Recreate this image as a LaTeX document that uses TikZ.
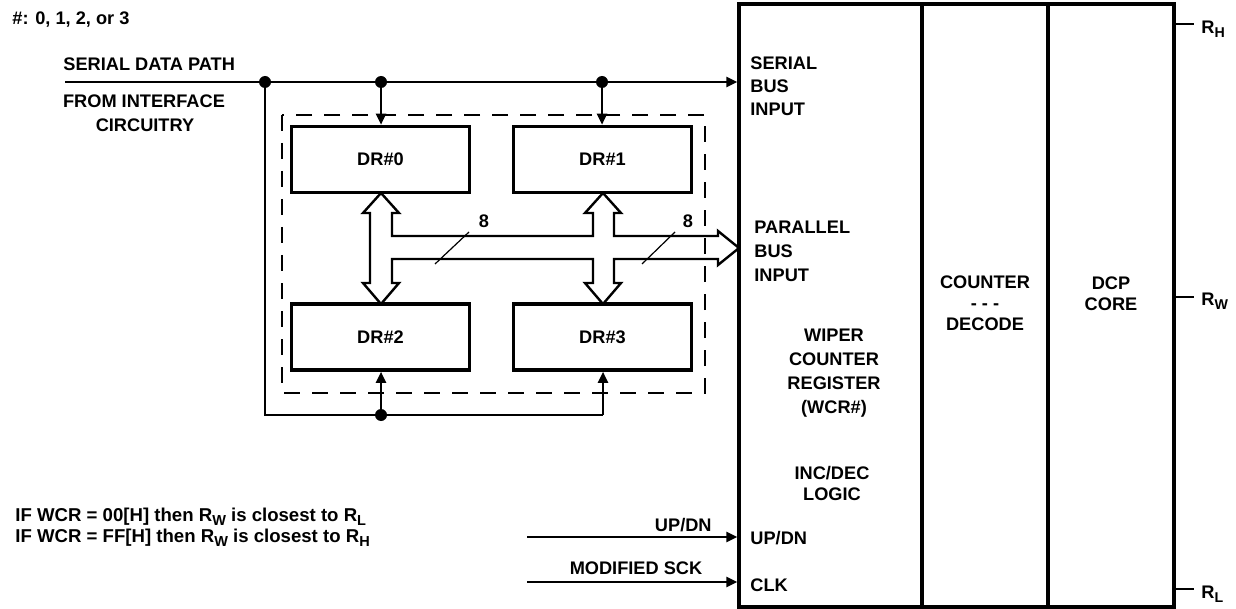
\documentclass[tikz,border=0pt]{standalone}
\usepackage{fontspec}
\setmainfont{Liberation Sans}
\usetikzlibrary{arrows.meta,calc}
\newcommand{\sbx}[1]{\raisebox{-0.45ex}{\scalebox{0.78}{#1}}}
\begin{document}
\begin{tikzpicture}[x=0.5pt,y=-0.5pt,
  txt/.style={inner sep=0pt,font=\fontsize{9.1}{11.5}\selectfont\bfseries},
  small/.style={inner sep=0pt,font=\fontsize{9.3}{10.5}\selectfont\bfseries},
  wire/.style={line width=1.15pt},
  arr/.style={wire,-{Triangle[length=5.5pt,width=5pt]}},
  regbox/.style={draw,line width=1.8pt,minimum width=89pt,minimum height=33pt,inner sep=0pt,font=\fontsize{9.1}{10}\selectfont\bfseries},
  jdot/.style={circle,fill,inner sep=0pt,minimum size=6pt},
  dashbox/.style={line width=1.1pt,dash pattern=on 8pt off 6pt},
  bus/.style={line width=1.2pt,line join=miter}
]
\useasboundingbox (0,0) rectangle (1236,609);

% main block
\node[draw,line width=1.7pt,minimum width=217.5pt,minimum height=301.5pt,inner sep=0pt] (main) at (956.5,305.5) {};
\coordinate (dv1t) at (922,4); \coordinate (dv1b) at (922,607);
\coordinate (dv2t) at (1048,4); \coordinate (dv2b) at (1048,607);
\draw[line width=1.7pt] (dv1t) -- (dv1b);
\draw[line width=1.7pt] (dv2t) -- (dv2b);

% data registers
\node[regbox] (dr0) at (380.5,159.5) {DR\#0};
\node[regbox] (dr1) at (602.5,159.5) {DR\#1};
\node[regbox] (dr2) at (380.5,337) {DR\#2};
\node[regbox] (dr3) at (602.5,337) {DR\#3};

% dashed enclosure
\draw[dashbox] (282,115) rectangle (705,393);

% serial path
\coordinate (src) at (65,82);
\node[jdot] (d0) at (265,82) {};
\node[jdot] (d1) at (381,82) {};
\node[jdot] (d2) at (602,82) {};
\draw[arr] (src) -- (src -| main.west);
\draw[arr] (d1) -- (d1 |- dr0.north);
\draw[arr] (d2) -- (d2 |- dr1.north);
\node[jdot] (d3) at (381,415) {};
\coordinate (br) at (603,415);
\draw[wire] (d0) |- (br);
\draw[arr] (d3) -- (d3 |- dr2.south);
\draw[arr] (br) -- (br |- dr3.south);

% parallel bus (hollow)
\draw[bus] (370,213) -- (363,213) -- (381,193) -- (399,213) -- (392,213) -- (392,236)
  -- (593,236) -- (593,213) -- (585,213) -- (603,193) -- (621,213) -- (614,213) -- (614,236)
  -- (718,236) -- (718,231) -- (739,248) -- (718,265) -- (718,259)
  -- (614,259) -- (614,283) -- (621,283) -- (603,304) -- (585,283) -- (593,283) -- (593,259)
  -- (392,259) -- (392,283) -- (399,283) -- (381,304) -- (363,283) -- (370,283) -- cycle;
\coordinate (s1a) at (435,264); \coordinate (s1b) at (469,232);
\coordinate (s2a) at (642,264); \coordinate (s2b) at (675,232);
\draw[line width=0.6pt] (s1a) -- (s1b);
\draw[line width=0.6pt] (s2a) -- (s2b);
\node[txt] (n8a) at (484,221) {8};
\node[txt] (n8b) at (688,221) {8};

% outputs
\coordinate (rh) at (1194,24);
\coordinate (rw) at (1194,297);
\coordinate (rl) at (1194,589);
\draw[wire] (main.east |- rh) -- (rh);
\draw[wire] (main.east |- rw) -- (rw);
\draw[wire] (main.east |- rl) -- (rl);
\node[txt,anchor=west] (lrh) at (1201,29) {R\sbx{H}};
\node[txt,anchor=west] (lrw) at (1201,301) {R\sbx{W}};
\node[txt,anchor=west] (lrl) at (1201,594) {R\sbx{L}};

% control inputs
\coordinate (upsrc) at (527,537);
\coordinate (cksrc) at (527,582);
\draw[arr] (upsrc) -- (upsrc -| main.west);
\draw[arr] (cksrc) -- (cksrc -| main.west);
\node[txt,anchor=east] (lup) at (712,525) {UP/DN};
\node[txt] (lsck) at (636,568) {MODIFIED SCK};

% labels outside
\node[txt,anchor=west] (hash) at (12,20) {\#: 0, 1, 2, or 3};
\node[txt,anchor=west] (sdp) at (63,64) {SERIAL DATA PATH};
\node[txt] (fic) at (144,101) {FROM INTERFACE};
\node[txt] (circ) at (145,125) {CIRCUITRY};
\node[small,anchor=west] (if1) at (15,517) {IF WCR = 00[H] then R\sbx{W} is closest to R\sbx{L}};
\node[small,anchor=west] (if2) at (15,538) {IF WCR = FF[H] then R\sbx{W} is closest to R\sbx{H}};

% labels inside main block
\node[txt,anchor=west,align=left] (sbi) at (750,86) {SERIAL\\BUS\\INPUT};
\node[txt,anchor=west,align=left] (pbi) at (754,251) {PARALLEL\\[0.5pt]BUS\\[0.5pt]INPUT};
\node[txt,align=center,font=\fontsize{9.1}{10.5}\selectfont\bfseries] (cd) at (985,303) {COUNTER\\- - -\\DECODE};
\node[txt,align=center,font=\fontsize{9.1}{10.5}\selectfont\bfseries] (dcp) at (1111,294) {DCP\\CORE};
\node[txt,align=center,font=\fontsize{9.1}{12}\selectfont\bfseries] (wcr) at (834,373) {WIPER\\COUNTER\\REGISTER\\(WCR\#)};
\node[txt,align=center,font=\fontsize{9.1}{10.5}\selectfont\bfseries] (inc) at (832,483) {INC/DEC\\LOGIC};
\node[txt,anchor=west] (iup) at (750,538) {UP/DN};
\node[txt,anchor=west] (iclk) at (750,585) {CLK};
\end{tikzpicture}
\end{document}
